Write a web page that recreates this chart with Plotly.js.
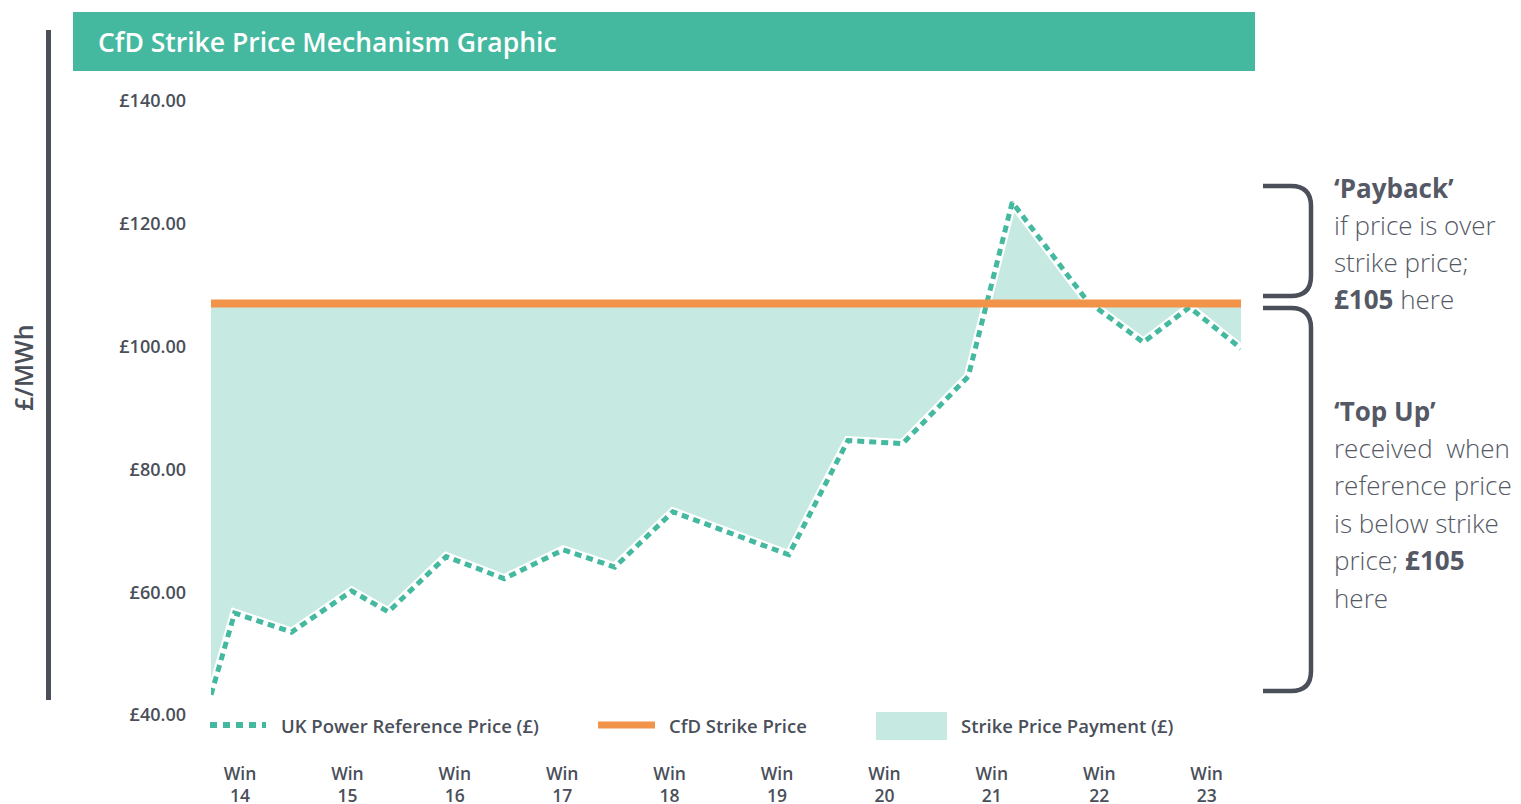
<!DOCTYPE html>
<html>
<head>
<meta charset="utf-8">
<script src="https://cdn.plot.ly/plotly-3.0.1.min.js"></script>
<style>html,body{margin:0;padding:0;background:#fff;}#chart{width:1521px;height:804px;}</style>
</head>
<body>
<div id="chart"></div>
<script>
// ---- data ----
const weeks = [13.73, 13.95, 14.48, 15.04, 15.38, 15.92, 16.46, 17.01, 17.49, 18.03, 19.11, 19.66, 20.17, 20.78, 21.19, 21.89, 22.41, 22.84, 23.32];
const refPrice = [43.3, 56.6, 53.5, 60.2, 56.8, 65.8, 62.2, 66.9, 64.1, 73.1, 66.1, 84.7, 84.2, 95.1, 123.5, 107.4, 100.7, 106.4, 99.7];
const strikePrice = 107;
const tickWeeks = [14, 15, 16, 17, 18, 19, 20, 21, 22, 23];
const tickLabels = ["Win<br>14", "Win<br>15", "Win<br>16", "Win<br>17", "Win<br>18", "Win<br>19", "Win<br>20", "Win<br>21", "Win<br>22", "Win<br>23"];
const yTicks = [40, 60, 80, 100, 120, 140];
const yTickLabels = ["£40.00", "£60.00", "£80.00", "£100.00", "£120.00", "£140.00"];
const legendLabels = ["UK Power Reference Price (£)", "CfD Strike Price", "Strike Price Payment (£)"];
const chartTitle = "CfD Strike Price Mechanism Graphic";
const yTitle = "£/MWh";
const paybackLines = ["<b>‘Payback’</b>", "if price is over", "strike price;", "<b>£105</b> here"];
const topUpLines = ["<b>‘Top Up’</b>", "received\u00a0 when", "reference price", "is below strike", "price; <b>£105</b>", "here"];

// ---- styling ----
const TEAL = "#45b99f", FILL = "#c6eae1", ORANGE = "#f2934a", DARK = "#4a4f5a";
const FONT = "Open Sans";
const L = 211, R = 1241, T = 101, B = 715, W = 1521, H = 804;
const px = x => (x - L) / (R - L);
const py = y => (B - y) / (B - T);

const strikeSeries = weeks.map(() => strikePrice);

const traces = [
  {x: weeks, y: strikeSeries, mode: "lines", line: {width: 0, color: "rgba(0,0,0,0)"}, showlegend: false, hoverinfo: "skip"},
  {x: weeks, y: refPrice, mode: "lines", fill: "tonexty", fillcolor: FILL, line: {width: 0, color: "rgba(0,0,0,0)"}, showlegend: false, hoverinfo: "skip"},
  {x: weeks, y: refPrice, mode: "lines", line: {width: 9, color: "#ffffff"}, showlegend: false, hoverinfo: "skip"},
  {x: weeks, y: refPrice, mode: "lines", line: {width: 5, color: TEAL, dash: "7px,5px"}, showlegend: false, hoverinfo: "skip"},
  {x: [weeks[0], weeks[weeks.length - 1]], y: [strikePrice, strikePrice], mode: "lines", line: {width: 8, color: ORANGE}, showlegend: false, hoverinfo: "skip"}
];

function bracePath(x0, xr, y0, y1, r) {
  return "M " + px(x0) + "," + py(y0) +
    " L " + px(xr - r) + "," + py(y0) +
    " Q " + px(xr) + "," + py(y0) + " " + px(xr) + "," + py(y0 + r) +
    " L " + px(xr) + "," + py(y1 - r) +
    " Q " + px(xr) + "," + py(y1) + " " + px(xr - r) + "," + py(y1) +
    " L " + px(x0) + "," + py(y1);
}

const shapes = [
  {type: "rect", xref: "paper", yref: "paper", x0: px(73), x1: px(1255), y0: py(71), y1: py(12), fillcolor: "#45b9a0", line: {width: 0}},
  {type: "line", xref: "paper", yref: "paper", x0: px(48.5), x1: px(48.5), y0: py(30), y1: py(700), line: {color: DARK, width: 5}},
  {type: "line", xref: "paper", yref: "paper", x0: px(210), x1: px(266), y0: py(725), y1: py(725), line: {color: TEAL, width: 6, dash: "7px,6px"}},
  {type: "line", xref: "paper", yref: "paper", x0: px(598), x1: px(655), y0: py(725), y1: py(725), line: {color: ORANGE, width: 7}},
  {type: "rect", xref: "paper", yref: "paper", x0: px(876), x1: px(947), y0: py(740), y1: py(712), fillcolor: FILL, line: {width: 0}},
  {type: "path", xref: "paper", yref: "paper", path: bracePath(1263, 1311, 186, 296, 20), line: {color: DARK, width: 4.5}},
  {type: "path", xref: "paper", yref: "paper", path: bracePath(1263, 1311, 308, 691, 20), line: {color: DARK, width: 4.5}}
];

const annotations = [
  {xref: "paper", yref: "paper", x: px(96), y: py(42), xanchor: "left", yanchor: "middle", showarrow: false, text: chartTitle, font: {family: FONT, size: 26.5, color: "#ffffff", weight: 600}},
  {xref: "paper", yref: "paper", x: px(23), y: py(368), xanchor: "center", yanchor: "middle", showarrow: false, textangle: -90, text: yTitle, font: {family: FONT, size: 25, color: DARK, weight: 600}},
  {xref: "paper", yref: "paper", x: px(279), y: py(725), xanchor: "left", yanchor: "middle", showarrow: false, text: legendLabels[0], font: {family: FONT, size: 18.5, color: DARK, weight: 600}},
  {xref: "paper", yref: "paper", x: px(667), y: py(725), xanchor: "left", yanchor: "middle", showarrow: false, text: legendLabels[1], font: {family: FONT, size: 18.5, color: DARK, weight: 600}},
  {xref: "paper", yref: "paper", x: px(959), y: py(725), xanchor: "left", yanchor: "middle", showarrow: false, text: legendLabels[2], font: {family: FONT, size: 18.5, color: DARK, weight: 600}}
];
const sideFont = {family: FONT, size: 26, color: "#545965", weight: 300};
const paybackY = [188, 225, 262, 299];
const topUpY = [411, 448, 485, 523, 560, 598];
paybackLines.forEach((t, i) => annotations.push({xref: "paper", yref: "paper", x: px(1332), y: py(paybackY[i]), xanchor: "left", yanchor: "middle", showarrow: false, text: t, font: sideFont}));
topUpLines.forEach((t, i) => annotations.push({xref: "paper", yref: "paper", x: px(1332), y: py(topUpY[i]), xanchor: "left", yanchor: "middle", showarrow: false, text: t, font: sideFont}));

const layout = {
  width: W, height: H,
  margin: {l: L, r: W - R, t: T, b: H - B, pad: 0},
  paper_bgcolor: "#ffffff", plot_bgcolor: "#ffffff",
  showlegend: false,
  xaxis: {range: [weeks[0], weeks[weeks.length - 1]], tickvals: tickWeeks, ticktext: tickLabels, showgrid: false, zeroline: false, showline: false, ticks: "", ticklabelstandoff: 46, tickfont: {family: FONT, size: 17.5, color: DARK, weight: 600}, fixedrange: true},
  yaxis: {range: [40, 140], tickvals: yTicks, ticktext: yTickLabels, showgrid: false, zeroline: false, showline: false, ticks: "", ticklabelstandoff: 24, tickfont: {family: FONT, size: 18, color: DARK, weight: 600}, fixedrange: true},
  shapes: shapes,
  annotations: annotations
};

Plotly.newPlot("chart", traces, layout, {staticPlot: true, displayModeBar: false});
</script>
</body>
</html>
